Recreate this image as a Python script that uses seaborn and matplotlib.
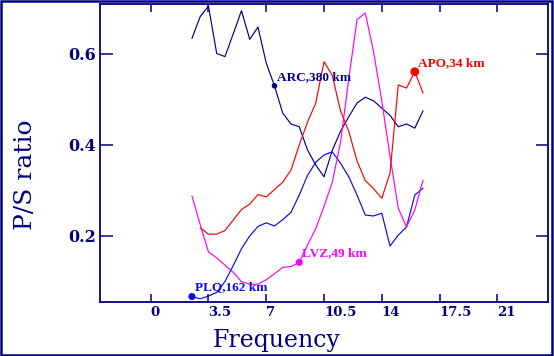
import pandas as pd
import numpy as np
import matplotlib
matplotlib.use("Agg")
import matplotlib.pyplot as plt
import seaborn as sns
from matplotlib.patches import Rectangle

# ------------------------------------------------------------
# data (P/S ratio vs frequency)
# ------------------------------------------------------------

freq = [2.5, 3.0, 3.5, 4.0, 4.5, 5.0, 5.5, 6.0, 6.5, 7.0, 7.5, 8.0, 8.5, 9.0, 9.5,
        10.0, 10.5, 11.0, 11.5, 12.0, 12.5, 13.0, 13.5, 14.0, 14.5, 15.0, 15.5,
        16.0, 16.5]

arc = [0.634, 0.682, 0.705, 0.601, 0.594, 0.644, 0.695, 0.632, 0.659, 0.580,
       0.530, 0.470, 0.446, 0.440, 0.389, 0.356, 0.330, 0.388, 0.430, 0.462,
       0.492, 0.505, 0.497, 0.481, 0.465, 0.440, 0.446, 0.437, 0.475]

plq = [0.067, 0.062, 0.068, 0.076, 0.100, 0.135, 0.172, 0.200, 0.221, 0.229,
       0.222, 0.236, 0.252, 0.290, 0.333, 0.362, 0.378, 0.385, 0.360, 0.330,
       0.290, 0.246, 0.244, 0.250, 0.178, 0.202, 0.220, 0.290, 0.305]

lvz = [0.288, 0.225, 0.165, 0.152, 0.136, 0.120, 0.100, 0.094, 0.094, 0.104,
       0.117, 0.131, 0.133, 0.142, 0.180, 0.216, 0.265, 0.318, 0.405, 0.545,
       0.675, 0.690, 0.605, 0.497, 0.375, 0.261, 0.220, 0.257, 0.323]

freq_apo = freq[1:]
apo = [0.218, 0.204, 0.204, 0.212, 0.235, 0.258, 0.270, 0.291, 0.286, 0.302,
       0.318, 0.345, 0.400, 0.450, 0.492, 0.583, 0.553, 0.475, 0.430, 0.365,
       0.322, 0.304, 0.283, 0.338, 0.532, 0.525, 0.561, 0.514]

stations = ["ARC", "PLQ", "LVZ", "APO"]
labels = {"ARC": "ARC,380 km", "PLQ": "PLQ,162 km", "LVZ": "LVZ,49 km", "APO": "APO,34 km"}
label_freq = {"ARC": 7.5, "PLQ": 2.5, "LVZ": 9.0, "APO": 16.0}
colors = {"ARC": "#00008c", "PLQ": "#0a0ae6", "LVZ": "#ff00ff", "APO": "#ff0000"}
msize = {"ARC": 16, "PLQ": 26, "LVZ": 26, "APO": 40}

df = pd.concat([
    pd.DataFrame({"freq": freq, "ratio": arc, "station": "ARC"}),
    pd.DataFrame({"freq": freq, "ratio": plq, "station": "PLQ"}),
    pd.DataFrame({"freq": freq, "ratio": lvz, "station": "LVZ"}),
    pd.DataFrame({"freq": freq_apo, "ratio": apo, "station": "APO"}),
], ignore_index=True)

# ------------------------------------------------------------
# plot
# ------------------------------------------------------------

sns.set_style("white")
navy = "#000080"
plt.rcParams["font.family"] = ["DejaVu Serif"]

fig = plt.figure(figsize=(5.54, 3.56), dpi=100)
ax = fig.add_axes([100 / 554, 1 - 302 / 356, 448 / 554, 297.7 / 356])

sns.lineplot(data=df, x="freq", y="ratio", hue="station", hue_order=stations,
             palette=colors, sort=False, estimator=None, linewidth=0.85,
             legend=False, ax=ax)

for st in stations:
    sub = df[(df.station == st) & (df.freq == label_freq[st])]
    sns.scatterplot(data=sub, x="freq", y="ratio", color=colors[st], s=msize[st],
                    edgecolor="none", legend=False, ax=ax, zorder=5)
    fx = sub.freq.iloc[0]
    fy = sub.ratio.iloc[0]
    ax.annotate(labels[st], (fx, fy), xytext=(3, 3), textcoords="offset pixels",
                color=colors[st], fontsize=9.5, family="Liberation Serif",
                fontweight="bold", ha="left", va="bottom")

ax.set_xlim(-3.07, 24.07)
ax.set_ylim(0.055, 0.709)
ax.set_xticks([0, 3.5, 7, 10.5, 14, 17.5, 21])
ax.set_xticklabels(["0", "3.5", "7", "10.5", "14", "17.5", "21"], ha="left")
ax.set_yticks([0.2, 0.4, 0.6])
ax.set_yticklabels(["0.2", "0.4", "0.6"])
ax.set_xlabel("")
ax.set_ylabel("")

for sp in ax.spines.values():
    sp.set_color(navy)
    sp.set_linewidth(1.3)

ax.tick_params(axis="x", direction="in", length=6, width=1.1, color=navy,
               top=True, bottom=True, labelcolor=navy, labelsize=9.5, pad=3)
ax.tick_params(axis="y", direction="in", length=9, width=1.1, color=navy,
               left=True, right=True, labelcolor=navy, labelsize=11.5, pad=3)
for t in ax.get_xticklabels() + ax.get_yticklabels():
    t.set_fontweight("bold")

fig.text(277 / 554, 1 - 347 / 356, "Frequency", color=navy, fontsize=17,
         ha="center", va="baseline")
fig.text(25 / 554, 1 - 175 / 356, "P/S ratio", color=navy, fontsize=18,
         rotation=90, ha="center", va="center")

fig.patches.append(Rectangle((0.002, 0.003), 0.995, 0.994, transform=fig.transFigure,
                             fill=False, edgecolor=navy, linewidth=1.8))

fig.savefig("out.png", dpi=100)
